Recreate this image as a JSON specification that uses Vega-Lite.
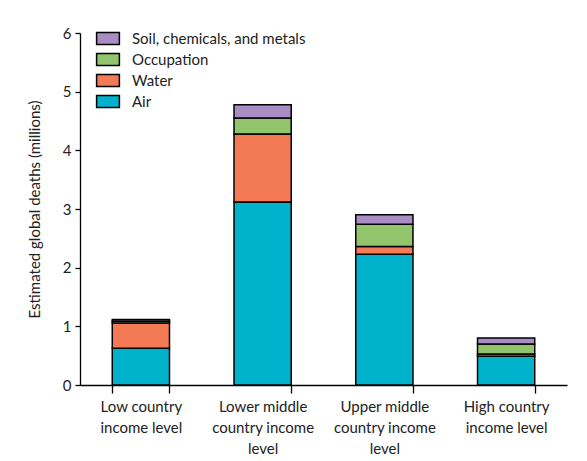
{
  "$schema": "https://vega.github.io/schema/vega-lite/v6.json",
  "width": 487,
  "height": 352,
  "autosize": "none",
  "padding": {"left": 80, "top": 33, "right": 20, "bottom": 76},
  "background": "white",
  "config": {
    "view": {"stroke": null},
    "font": "Lato",
    "axis": {"labelFont": "Lato", "titleFont": "Lato", "labelColor": "#222", "titleColor": "#222", "domainColor": "#000", "tickColor": "#000", "domainWidth": 1.3, "tickWidth": 1.3, "grid": false}
  },
  "data": {
    "values": [
      {"income": "Low country\nincome level", "source": "Air", "k": 1, "deaths": 0.625},
      {"income": "Low country\nincome level", "source": "Water", "k": 2, "deaths": 0.43},
      {"income": "Low country\nincome level", "source": "Occupation", "k": 3, "deaths": 0.03},
      {"income": "Low country\nincome level", "source": "Soil, chemicals, and metals", "k": 4, "deaths": 0.03},
      {"income": "Lower middle\ncountry income\nlevel", "source": "Air", "k": 1, "deaths": 3.12},
      {"income": "Lower middle\ncountry income\nlevel", "source": "Water", "k": 2, "deaths": 1.16},
      {"income": "Lower middle\ncountry income\nlevel", "source": "Occupation", "k": 3, "deaths": 0.27},
      {"income": "Lower middle\ncountry income\nlevel", "source": "Soil, chemicals, and metals", "k": 4, "deaths": 0.225},
      {"income": "Upper middle\ncountry income\nlevel", "source": "Air", "k": 1, "deaths": 2.23},
      {"income": "Upper middle\ncountry income\nlevel", "source": "Water", "k": 2, "deaths": 0.13},
      {"income": "Upper middle\ncountry income\nlevel", "source": "Occupation", "k": 3, "deaths": 0.38},
      {"income": "Upper middle\ncountry income\nlevel", "source": "Soil, chemicals, and metals", "k": 4, "deaths": 0.16},
      {"income": "High country\nincome level", "source": "Air", "k": 1, "deaths": 0.49},
      {"income": "High country\nincome level", "source": "Water", "k": 2, "deaths": 0.04},
      {"income": "High country\nincome level", "source": "Occupation", "k": 3, "deaths": 0.17},
      {"income": "High country\nincome level", "source": "Soil, chemicals, and metals", "k": 4, "deaths": 0.10}
    ]
  },
  "mark": {"type": "bar", "stroke": "#000", "strokeWidth": 1.5},
  "encoding": {
    "x": {
      "field": "income",
      "type": "nominal",
      "sort": null,
      "scale": {"paddingInner": 0.53, "paddingOuter": 0.265},
      "axis": {"title": null, "labelAngle": 0, "labelFontSize": 15, "labelLineHeight": 21, "labelPadding": 6, "tickSize": 8, "tickBand": "extent", "labelExpr": "datum.value ? split(datum.value, '\\n') : ''", "labelBaseline": "top"}
    },
    "y": {
      "field": "deaths",
      "type": "quantitative",
      "stack": "zero",
      "scale": {"domain": [0, 6], "nice": false},
      "axis": {"title": "Estimated global deaths (millions)", "values": [0, 1, 2, 3, 4, 5, 6], "labelFontSize": 15, "titleFontSize": 15, "titleFontWeight": "normal", "tickSize": 5, "labelPadding": 4, "titlePadding": 20}
    },
    "order": {"field": "k", "type": "quantitative", "sort": "ascending"},
    "color": {
      "field": "source",
      "type": "nominal",
      "scale": {"domain": ["Air", "Water", "Occupation", "Soil, chemicals, and metals"], "range": ["#00b2cc", "#f47a55", "#92c46c", "#a98cc4"]},
      "legend": {"title": null, "orient": "none", "legendX": 20.5, "legendY": -2, "values": ["Soil, chemicals, and metals", "Occupation", "Water", "Air"], "symbolType": "M-1.9,-1H1.9V1H-1.9Z", "symbolSize": 144, "symbolStrokeColor": "#000", "symbolStrokeWidth": 1.5, "symbolOpacity": 1, "labelFontSize": 15, "labelFont": "Lato", "labelColor": "#222", "labelLimit": 400, "rowPadding": 2, "labelOffset": 16.5, "padding": 0}
    }
  }
}
